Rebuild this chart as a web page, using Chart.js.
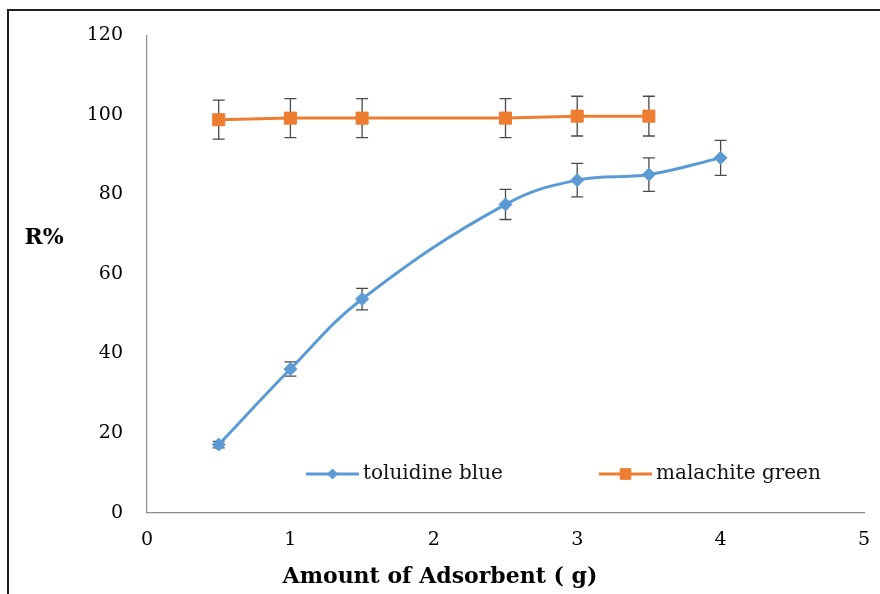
<!DOCTYPE html>
<html>
<head>
<meta charset="utf-8">
<script src="https://cdn.jsdelivr.net/npm/chart.js@4.4.1/dist/chart.umd.min.js"></script>
<style>
  html,body{margin:0;padding:0;background:#fff;overflow:hidden}
  #wrap{position:relative;width:880px;height:594px;overflow:hidden}
  #frame{position:absolute;left:7px;top:9px;width:900px;height:620px;border-left:2px solid #1e1e1e;border-top:2px solid #1e1e1e}
  canvas{position:absolute;left:0;top:0}
</style>
</head>
<body>
<div id="wrap">
  <div id="frame"></div>
  <canvas id="chart" width="880" height="594"></canvas>
</div>
<script>
const amountTB = [0.5,1,1.5,2.5,3,3.5,4]
const toluidineBlue = [17.1,36.1,53.7,77.5,83.6,85.0,89.2]
const toluidineErr = [0.8,1.8,2.7,3.8,4.2,4.2,4.4]

const amountMG = [0.5,1,1.5,2.5,3,3.5]
const malachiteGreen = [98.8,99.2,99.2,99.2,99.7,99.7]
const malachiteErr = [4.9,4.9,4.9,4.9,5.0,5.0]

const xTicks = [0,1,2,3,4,5]
const yTicks = [0,20,40,60,80,100,120]

const serif = "DejaVu Serif"

// error bars drawn under the markers
const errorBars = {
  id:"errorBars",
  beforeDatasetsDraw(chart){
    const {ctx, scales:{x,y}} = chart
    ctx.save()
    ctx.strokeStyle = "#4a4a4a"
    ctx.lineWidth = 1.3
    chart.data.datasets.forEach(ds => {
      ds.data.forEach((p,i) => {
        const px = x.getPixelForValue(p.x)
        const top = y.getPixelForValue(p.y + ds.errors[i])
        const bot = y.getPixelForValue(p.y - ds.errors[i])
        ctx.beginPath()
        ctx.moveTo(px,top); ctx.lineTo(px,bot)
        ctx.moveTo(px-6,top); ctx.lineTo(px+6,top)
        ctx.moveTo(px-6,bot); ctx.lineTo(px+6,bot)
        ctx.stroke()
      })
    })
    ctx.restore()
  }
}

// legend sits inside the plot, plus the horizontal "R%" label
const insideLegend = {
  id:"insideLegend",
  afterDraw(chart){
    const {ctx} = chart
    const spots = [306, 599]
    ctx.save()
    chart.data.datasets.forEach((ds,i) => {
      const lx = spots[i], ly = 474
      ctx.strokeStyle = ds.borderColor
      ctx.lineWidth = 3
      ctx.beginPath()
      ctx.moveTo(lx,ly); ctx.lineTo(lx+53,ly)
      ctx.stroke()
      ctx.fillStyle = ds.backgroundColor
      ctx.lineWidth = 1
      Chart.helpers.drawPoint(ctx,{
        pointStyle:ds.pointStyle,
        radius:ds.pointStyle === "rect" ? 7.5 : 5,
        borderWidth:1,
        rotation:0
      }, lx+26.5, ly)
      ctx.fillStyle = "#111"
      ctx.font = "20px '" + serif + "'"
      ctx.textAlign = "left"
      ctx.textBaseline = "middle"
      ctx.fillText(ds.label, lx+57, ly)
    })
    ctx.font = "bold 22px '" + serif + "'"
    ctx.textAlign = "center"
    ctx.fillStyle = "#000"
    ctx.fillText("R%", 44, 238)
    ctx.restore()
  }
}

new Chart(document.getElementById("chart"),{
  type:"line",
  data:{
    datasets:[{
      label:"toluidine blue",
      data:amountTB.map((v,i) => ({x:v, y:toluidineBlue[i]})),
      errors:toluidineErr,
      borderColor:"#5B9BD5",
      backgroundColor:"#5B9BD5",
      borderWidth:3,
      tension:0.4,
      pointStyle:"rectRot",
      pointRadius:6.5,
      pointBorderWidth:1
    },{
      label:"malachite green",
      data:amountMG.map((v,i) => ({x:v, y:malachiteGreen[i]})),
      errors:malachiteErr,
      borderColor:"#ED7D31",
      backgroundColor:"#ED7D31",
      borderWidth:3,
      tension:0,
      pointStyle:"rect",
      pointRadius:8.5,
      pointBorderWidth:1
    }]
  },
  options:{
    responsive:false,
    animation:false,
    layout:{ padding:{ top:30, right:0, left:0, bottom:0 } },
    plugins:{
      legend:{ display:false },
      tooltip:{ enabled:false },
      title:{
        display:true,
        position:"bottom",
        text:"Amount of Adsorbent ( g)",
        color:"#000",
        font:{ family:serif, size:22, weight:"bold" },
        padding:{ top:12, bottom:4 }
      }
    },
    scales:{
      x:{
        type:"linear",
        min:0, max:5,
        afterBuildTicks:s => { s.ticks = xTicks.map(v => ({value:v})) },
        afterFit:s => { s.height = 39; s.paddingLeft = 0; s.paddingRight = 16 },
        grid:{ display:false, drawTicks:false },
        border:{ display:true, color:"#8c8c8c", width:1.2 },
        ticks:{ color:"#000", padding:16, font:{ family:serif, size:19 } }
      },
      y:{
        min:0, max:120,
        afterBuildTicks:s => { s.ticks = yTicks.map(v => ({value:v})) },
        afterFit:s => { s.width = 147 },
        grid:{ display:false, drawTicks:false },
        border:{ display:true, color:"#8c8c8c", width:1.2 },
        ticks:{ color:"#000", padding:24, font:{ family:serif, size:19 } }
      }
    }
  },
  plugins:[errorBars, insideLegend]
})
</script>
</body>
</html>
